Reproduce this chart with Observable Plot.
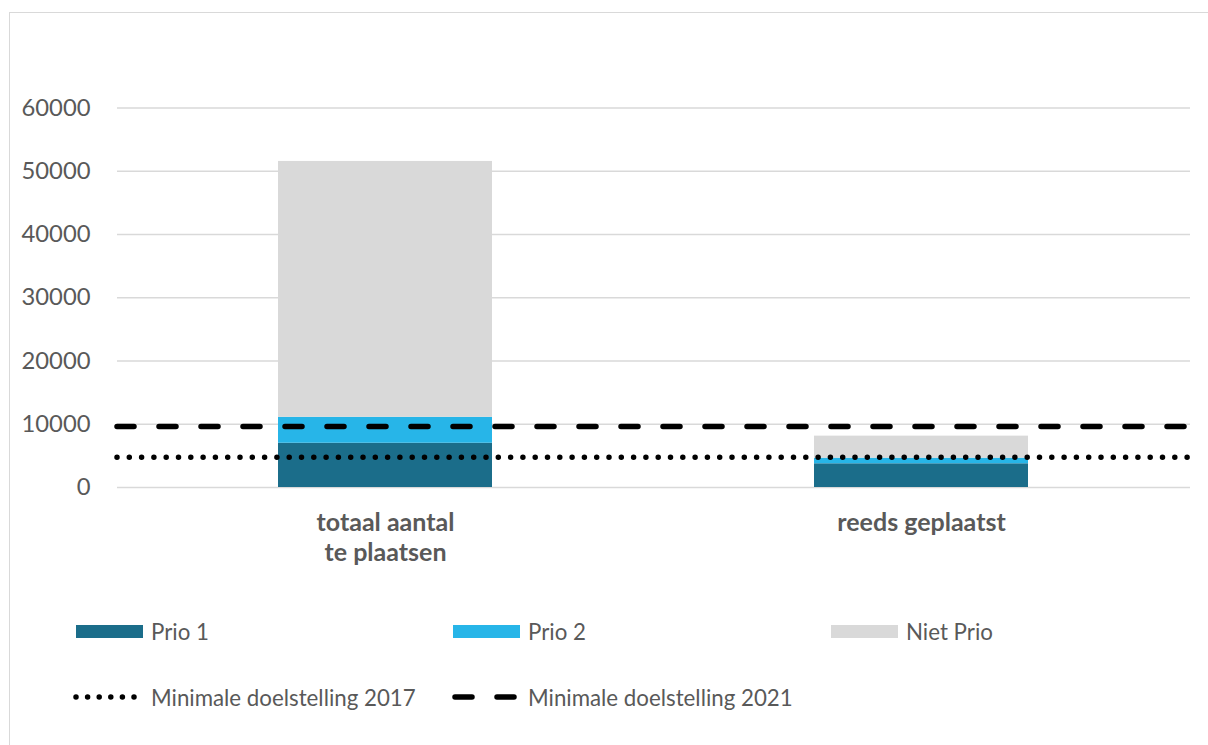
<!DOCTYPE html>
<html>
<head>
<meta charset="utf-8">
<script src="https://cdn.jsdelivr.net/npm/d3@7"></script>
<script src="https://cdn.jsdelivr.net/npm/@observablehq/plot@0.6"></script>
<style>
  html, body { margin: 0; padding: 0; background: #fff; overflow: hidden; }
  #wrap { position: relative; width: 1208px; height: 745px; font-family: Lato, "Open Sans", sans-serif; color: #595959; }
  #frame { position: absolute; left: 9px; top: 12px; width: 1220px; height: 760px; border: 1.5px solid #d9d9d9; box-sizing: border-box; }
  #chart { position: absolute; left: 0; top: 0; }
  .leg { position: absolute; display: flex; align-items: center; font-size: 22.3px; white-space: nowrap; }
  .leg svg { margin-right: 8px; }
</style>
</head>
<body>
<div id="wrap">
  <div id="frame"></div>
  <div id="chart"></div>
  <div id="legend"></div>
</div>
<script>
const categories = ["totaal aantal\nte plaatsen", "reeds geplaatst"];
const series = ["Prio 1", "Prio 2", "Niet Prio"];
const prio1 = [7000, 3750];
const prio2 = [4100, 890];
const nietPrio = [40450, 3480];
const doelstelling2017 = 4800;
const doelstelling2021 = 9650;
const lineLabels = ["Minimale doelstelling 2017", "Minimale doelstelling 2021"];
const yTicks = [0, 10000, 20000, 30000, 40000, 50000, 60000];
const colors = ["#1b6d8a", "#27b5e8", "#d9d9d9"];

const seriesValues = [prio1, prio2, nietPrio];
const data = [];
series.forEach((s, si) => categories.forEach((c, ci) => data.push({cat: c, series: s, value: seriesValues[si][ci]})));

const chart = Plot.plot({
  width: 1208,
  height: 590,
  marginLeft: 117,
  marginRight: 18,
  marginTop: 107.5,
  marginBottom: 103,
  style: {fontFamily: "Lato, 'Open Sans', sans-serif", color: "#595959", background: "transparent", overflow: "visible"},
  x: {domain: categories, paddingInner: 0.6, paddingOuter: 0.3, label: null},
  y: {domain: [0, 60000], label: null},
  color: {domain: series, range: colors},
  marks: [
    Plot.gridY(yTicks, {stroke: "#d9d9d9", strokeOpacity: 1, strokeWidth: 1.5}),
    Plot.axisY(yTicks, {tickSize: 0, tickPadding: 27, tickFormat: d => String(d), fontSize: 23.8, fill: "#595959", label: null}),
    Plot.axisX({tickSize: 0, tickPadding: 22, fontSize: 25, fontWeight: "bold", lineHeight: 1.2, fill: "#595959", label: null}),
    Plot.barY(data, {x: "cat", y: "value", fill: "series"}),
    Plot.ruleY([doelstelling2017], {stroke: "#000", strokeWidth: 5.5, strokeLinecap: "round", strokeDasharray: "0 12.3"}),
    Plot.ruleY([doelstelling2021], {stroke: "#000", strokeWidth: 5.5, strokeLinecap: "round", strokeDasharray: "17 25"})
  ]
});
document.getElementById("chart").appendChild(chart);

// legend
const legend = document.getElementById("legend");
const swatchX = [76, 453, 831];
series.forEach((s, i) => {
  const d = document.createElement("div");
  d.className = "leg";
  d.style.left = swatchX[i] + "px";
  d.style.top = (631 - 15) + "px";
  d.style.height = "30px";
  d.innerHTML = `<svg width="67" height="13"><rect width="67" height="13" fill="${colors[i]}"></rect></svg><span>${s}</span>`;
  legend.appendChild(d);
});
const lineX = [72, 449];
const dashes = ["0 11.6", "17 25"];
lineLabels.forEach((s, i) => {
  const d = document.createElement("div");
  d.className = "leg";
  d.style.left = lineX[i] + "px";
  d.style.top = (697 - 15) + "px";
  d.style.height = "30px";
  d.innerHTML = `<svg width="71" height="14"><line x1="${i === 0 ? 4 : 6}" x2="${i === 0 ? 70 : 66}" y1="7" y2="7" stroke="#000" stroke-width="5.5" stroke-linecap="round" stroke-dasharray="${dashes[i]}"></line></svg><span>${s}</span>`;
  legend.appendChild(d);
});
</script>
</body>
</html>
